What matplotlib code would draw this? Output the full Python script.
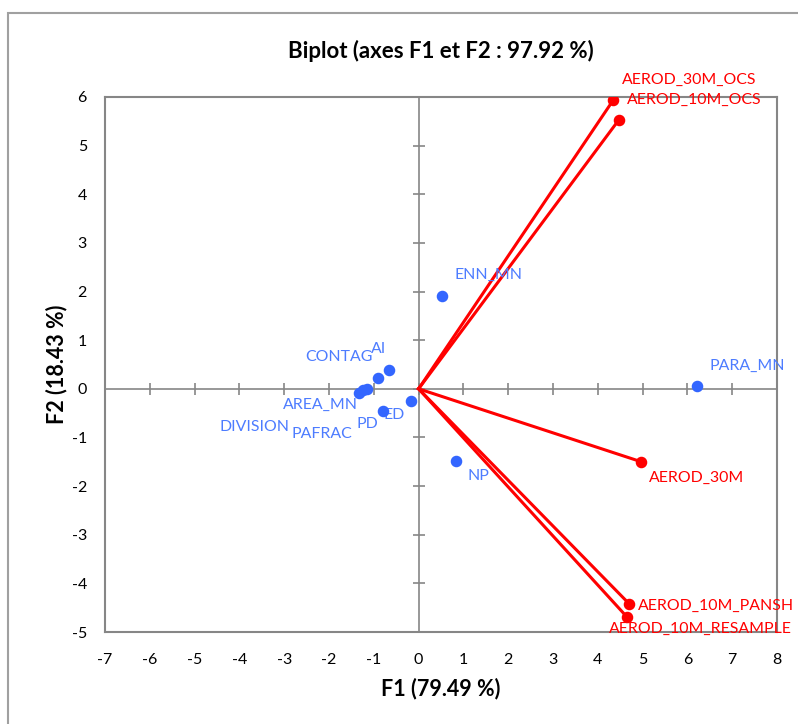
import numpy as np
import matplotlib.pyplot as plt
from matplotlib.patches import Rectangle

plt.rcParams["font.family"] = ["Lato", "DejaVu Sans"]
plt.rcParams["axes.unicode_minus"] = False

# --- Data ---
var_names = ["AEROD_30M_OCS", "AEROD_10M_OCS", "AEROD_30M",
             "AEROD_10M_PANSH", "AEROD_10M_RESAMPLE"]
var_f1 = [4.34, 4.47, 4.97, 4.70, 4.65]
var_f2 = [5.93, 5.53, -1.50, -4.42, -4.69]

obs_names = ["ENN_MN", "PARA_MN", "NP", "AI", "CONTAG", "AREA_MN",
             "PAFRAC", "DIVISION", "PD", "ED"]
obs_f1 = [0.52, 6.22, 0.83, -0.65, -0.91, -1.16, -1.25, -1.33, -0.79, -0.17]
obs_f2 = [1.91, 0.06, -1.48, 0.39, 0.22, -0.01, -0.03, -0.09, -0.45, -0.26]

xticks = list(range(-7, 9))
yticks = list(range(-5, 7))

# label placement (offset in pixels, horizontal alignment)
var_offsets = [(9, 21, "left"), (8, 20, "left"), (8, -16, "left"),
               (9, -2, "left"), (-18, -12, "left")]
obs_offsets = [(13, 21, "left"), (12, 20, "left"), (12, -15, "left"),
               (-19, 21, "left"), (-5, 21, "right"), (-9, -16, "right"),
               (-10, -44, "right"), (-70, -34, "right"), (-5, -13, "right"),
               (-6, -14, "right")]

RED = "#ff0000"
BLUE_DOT = "#3366ff"
BLUE_TXT = "#4d7cff"
GRAY = "#868686"
LBL = 11.4

fig = plt.figure(figsize=(7.98, 7.24), dpi=100)
ax = fig.add_axes([105 / 798, 92 / 724, 672 / 798, 535 / 724])

# outer chart border
fig.patches.append(Rectangle((8 / 798, -0.05), 1.0, 1 - 13 / 724 + 0.05,
                             transform=fig.transFigure, fill=False,
                             edgecolor="#a0a0a0", linewidth=1.5))

ax.set_xlim(-7, 8)
ax.set_ylim(-5, 6)
ax.set_xticks(xticks)
ax.set_yticks(yticks)
ax.tick_params(length=0, labelsize=11.5, pad=13)
ax.tick_params(axis="x", pad=15)
for s in ax.spines.values():
    s.set_color(GRAY)
    s.set_linewidth(1.5)

# central axes with crossing tick marks
ax.axhline(0, color=GRAY, lw=1.2, zorder=1)
ax.axvline(0, color=GRAY, lw=1.2, zorder=1)
ax.plot(xticks, np.zeros(len(xticks)), ls="none", marker="|", ms=9,
        mew=1.2, color=GRAY, zorder=1, clip_on=False)
ax.plot(np.zeros(len(yticks)), yticks, ls="none", marker="_", ms=9,
        mew=1.2, color=GRAY, zorder=1, clip_on=False)

# variable vectors
for x, y in zip(var_f1, var_f2):
    ax.plot([0, x], [0, y], color=RED, lw=2.2, zorder=3)
ax.plot(var_f1, var_f2, ls="none", marker="o", ms=7.3, color=RED, zorder=4)
for name, x, y, (dx, dy, ha) in zip(var_names, var_f1, var_f2, var_offsets):
    ax.annotate(name, (x, y), xytext=(dx, dy), textcoords="offset pixels",
                ha=ha, va="center", color=RED, fontsize=LBL,
                annotation_clip=False)

# observations
ax.plot(obs_f1, obs_f2, ls="none", marker="o", ms=7.3, color=BLUE_DOT, zorder=4)
for name, x, y, (dx, dy, ha) in zip(obs_names, obs_f1, obs_f2, obs_offsets):
    ax.annotate(name, (x, y), xytext=(dx, dy), textcoords="offset pixels",
                ha=ha, va="center", color=BLUE_TXT, fontsize=LBL,
                annotation_clip=False)

ax.set_title("Biplot (axes F1 et F2 : 97.92 %)", fontsize=16,
             fontweight="bold", pad=28)
ax.set_xlabel("F1 (79.49 %)", fontsize=15.5, fontweight="bold", labelpad=8)
ax.set_ylabel("F2 (18.43 %)", fontsize=15.5, fontweight="bold", labelpad=3)

fig.savefig("out.png", dpi=100)
